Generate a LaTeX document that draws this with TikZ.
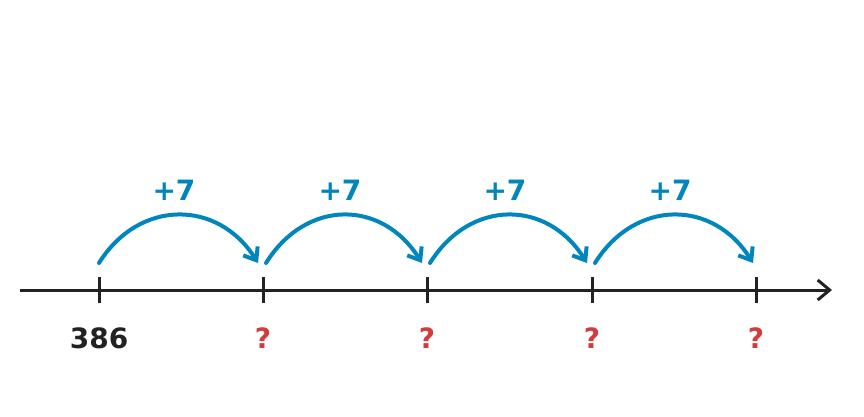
\documentclass[tikz,border=0pt]{standalone}
\usepackage{fontspec}
\setmainfont{DejaVu Sans}[BoldFont={DejaVu Sans Bold}]
\usetikzlibrary{arrows.meta}
\definecolor{jumpblue}{RGB}{0,134,188}
\definecolor{askred}{RGB}{214,59,59}
\definecolor{axisgray}{RGB}{34,34,34}
\tikzset{
  jump/.style={draw=jumpblue, line width=4pt, line cap=round, -{Straight Barb[length=11pt,width=17pt]}},
  tick/.style={draw=axisgray, line width=3pt},
  lbl/.style={font=\bfseries\fontsize{28}{32}\selectfont, inner sep=0pt}
}
\begin{document}
\begin{tikzpicture}[x=1pt,y=1pt]
    \useasboundingbox (0,0) rectangle (864,416);
    \coordinate (L) at (20,126);
    \coordinate (R) at (832,126);
    \coordinate (T0) at (99,126);
    \coordinate (T1) at (263,126);
    \coordinate (T2) at (427,126);
    \coordinate (T3) at (592,126);
    \coordinate (T4) at (756,126);

    %number line
    \draw[axisgray, line width=3pt, -{Straight Barb[length=12pt,width=20pt,line width=3pt]}] (L) -- (R);
    \draw[tick] (T0) ++(0,13) -- ++(0,-26);
    \draw[tick] (T1) ++(0,13) -- ++(0,-26);
    \draw[tick] (T2) ++(0,13) -- ++(0,-26);
    \draw[tick] (T3) ++(0,13) -- ++(0,-26);
    \draw[tick] (T4) ++(0,13) -- ++(0,-26);

    %values
    \node[lbl, text=axisgray] (v0) at (99,78) {386};
    \node[lbl, text=askred] (v1) at (263,78) {?};
    \node[lbl, text=askred] (v2) at (427,78) {?};
    \node[lbl, text=askred] (v3) at (592,78) {?};
    \node[lbl, text=askred] (v4) at (756,78) {?};

    %jumps
    \coordinate (A0) at (99,153);
    \coordinate (B1) at (258,153);
    \coordinate (A1) at (266,153);
    \coordinate (B2) at (422,153);
    \coordinate (A2) at (430,153);
    \coordinate (B3) at (587,153);
    \coordinate (A3) at (595,153);
    \coordinate (B4) at (753,153);
    \draw[jump] (A0) .. controls +(40,64) and +(-40,64) .. (B1);
    \draw[jump] (A1) .. controls +(40,64) and +(-40,64) .. (B2);
    \draw[jump] (A2) .. controls +(40,64) and +(-40,64) .. (B3);
    \draw[jump] (A3) .. controls +(40,64) and +(-40,64) .. (B4);
    \node[lbl, text=jumpblue] (j1) at (174,226) {+7};
    \node[lbl, text=jumpblue] (j2) at (340,226) {+7};
    \node[lbl, text=jumpblue] (j3) at (505,226) {+7};
    \node[lbl, text=jumpblue] (j4) at (670,226) {+7};
  \end{tikzpicture}
\end{document}
